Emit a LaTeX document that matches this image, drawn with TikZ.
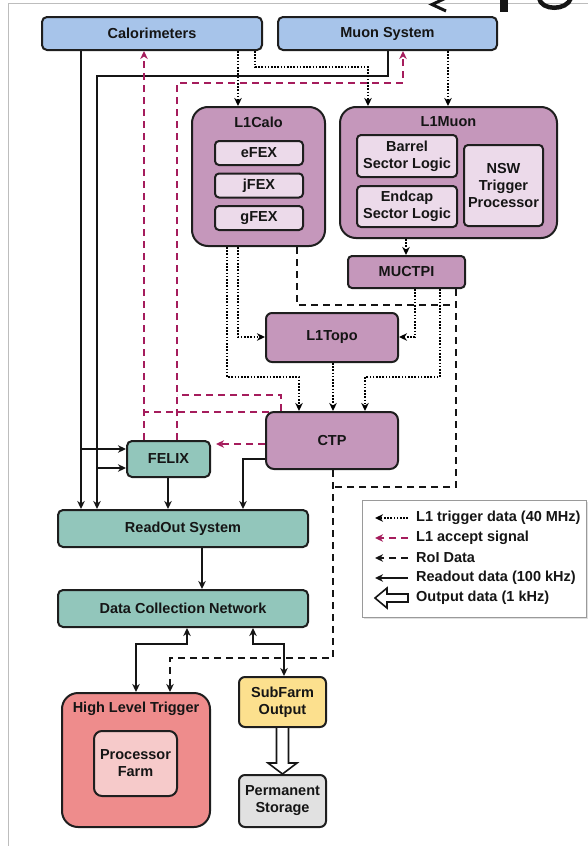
\documentclass[tikz,border=0pt]{standalone}
\usepackage{fontspec}
\setmainfont{Liberation Sans}
\usetikzlibrary{arrows.meta,calc,backgrounds}

\definecolor{edge}{HTML}{1E1E1E}
\definecolor{ink}{HTML}{151515}
\definecolor{skyfill}{HTML}{A7C4EA}
\definecolor{mauve}{HTML}{C597BB}
\definecolor{mauvelite}{HTML}{ECDAEA}
\definecolor{tealfill}{HTML}{92C6BB}
\definecolor{hltfill}{HTML}{EE8C8C}
\definecolor{hltlite}{HTML}{F6CACA}
\definecolor{sfofill}{HTML}{FCE08E}
\definecolor{storefill}{HTML}{E1E1E1}
\definecolor{acc}{HTML}{A51C5C}
\definecolor{frame}{HTML}{BDBDBD}
\definecolor{legedge}{HTML}{9A9A9A}

\begin{document}
\begin{tikzpicture}[x=1pt,y=-1pt,
  font=\bfseries\fontsize{14.5}{17}\selectfont,
  unit/.style={draw=edge,line width=2pt,align=center,inner sep=0pt,text=ink},
  bluebox/.style={unit,fill=skyfill,rounded corners=5pt},
  l1outer/.style={unit,fill=mauve,rounded corners=16pt},
  l1box/.style={unit,fill=mauve,rounded corners=6pt},
  l1inner/.style={unit,fill=mauvelite,rounded corners=4pt},
  tealbox/.style={unit,fill=tealfill,rounded corners=5pt},
  caption/.style={inner sep=0pt,text=ink},
  arrowhd/.style={-{Stealth[length=8pt,width=7.5pt,inset=2.5pt]}},
  trig/.style={line width=1.7pt,dash pattern=on 1.6pt off 1.6pt,arrowhd},
  accept/.style={draw=acc,line width=1.7pt,dash pattern=on 7pt off 5pt},
  roi/.style={draw=ink,line width=1.7pt,dash pattern=on 7pt off 5pt},
  readout/.style={draw=ink,line width=1.7pt},
  hollow/.style={draw=ink,line width=1.6pt,fill=white,line join=miter},
]
\useasboundingbox (0,0) rectangle (588,846);

% page frame
\draw[frame,line width=1pt] (588,3) -- (8,3) -- (8,846);

% lower ends of the large heading glyphs cut by the page edge
\begin{scope}
  \clip (400,0) rectangle (588,13);
  \draw[ink,line width=3pt,line join=miter] (446,-2) -- (432,4.5) -- (446,11);
  \fill[ink] (500,-1) rectangle (508,12);
  \draw[ink,line width=4.5pt] (539,-2) .. controls (541,11) and (567,11) .. (571,-2);
\end{scope}

% column and row guides used by the connectors
\coordinate (xCaloRO) at (81,0);
\coordinate (xMuonRO) at (97,0);
\coordinate (xAccCalo) at (144,0);
\coordinate (xAccMuonL) at (177,0);
\coordinate (xCaloTrg) at (238,0);
\coordinate (xCaloTrgB) at (255,0);
\coordinate (xMuonInA) at (368,0);
\coordinate (xMuonSol) at (388,0);
\coordinate (xAccMuon) at (403,0);
\coordinate (xMuonInB) at (448,0);
\coordinate (xToMuctpi) at (406,0);
\coordinate (xCaloCtp) at (227,0);
\coordinate (xCtpA) at (299,0);
\coordinate (xCtpB) at (333,0);
\coordinate (xCtpC) at (365,0);
\coordinate (xCaloRoI) at (297,0);
\coordinate (xMuTopo) at (415,0);
\coordinate (xMuCtp) at (440,0);
\coordinate (xMuRoI) at (456,0);
\coordinate (xCtpRO) at (243,0);
\coordinate (xFelixRO) at (168,0);
\coordinate (xRosDcn) at (202,0);
\coordinate (xDcnHltA) at (187,0);
\coordinate (xDcnHltB) at (136,0);
\coordinate (xDcnSfoA) at (253,0);
\coordinate (xDcnSfoB) at (284,0);
\coordinate (xRoIHlt) at (170,0);
\coordinate (xAccCorner) at (281,0);
\coordinate (yTrgRow) at (0,67);
\coordinate (yMuonSol) at (0,76);
\coordinate (yAccRow) at (0,83);
\coordinate (yRoIRow) at (0,305);
\coordinate (yTopoIn) at (0,337);
\coordinate (yCtpRow) at (0,377);
\coordinate (yAccUp) at (0,395);
\coordinate (yAccLow) at (0,412);
\coordinate (yAccFelix) at (0,444);
\coordinate (yFelixA) at (0,449);
\coordinate (yCtpRO) at (0,459);
\coordinate (yFelixB) at (0,468);
\coordinate (yRoIJoin) at (0,487);
\coordinate (yDcnOut) at (0,644);
\coordinate (yRoIHlt) at (0,658);

% detectors
\node[bluebox,minimum width=220,minimum height=33] (calo) at (152,33.5) {Calorimeters};
\node[bluebox,minimum width=219,minimum height=33] (muon) at (387.5,33.5) {Muon System};

% level-1 calorimeter trigger
\node[l1outer,minimum width=133,minimum height=139] (l1calo) at (258.5,176.5) {};
\node[caption] (l1calot) at (258.5,122) {L1Calo};
\node[l1inner,minimum width=88,minimum height=24] (efex) at (259,153) {eFEX};
\node[l1inner,minimum width=88,minimum height=24] (jfex) at (259,185.5) {jFEX};
\node[l1inner,minimum width=88,minimum height=24] (gfex) at (259,218) {gFEX};

% level-1 muon trigger
\node[l1outer,minimum width=217,minimum height=131] (l1muon) at (448.5,172.5) {};
\node[caption] (l1muont) at (448.5,122) {L1Muon};
\node[l1inner,minimum width=100,minimum height=42] (barrel) at (407,156) {Barrel\\Sector Logic};
\node[l1inner,minimum width=100,minimum height=41] (endcap) at (407,206.5) {Endcap\\Sector Logic};
\node[l1inner,minimum width=79,minimum height=81] (nsw) at (503.5,185.5) {NSW\\Trigger\\Processor};

\node[l1box,minimum width=117,minimum height=32,rounded corners=4pt] (muctpi) at (406.5,272) {MUCTPI};
\node[l1box,minimum width=132,minimum height=49] (l1topo) at (332,337.5) {L1Topo};
\node[l1box,minimum width=132,minimum height=57,rounded corners=8pt] (ctp) at (332,440.5) {CTP};

% readout path
\node[tealbox,minimum width=83,minimum height=36] (felix) at (168.5,459) {FELIX};
\node[tealbox,minimum width=250,minimum height=37] (ros) at (183,528.5) {ReadOut System};
\node[tealbox,minimum width=250,minimum height=37] (dcn) at (183,608.5) {Data Collection Network};

% high level trigger and output
\node[unit,fill=hltfill,rounded corners=16pt,minimum width=148,minimum height=134] (hlt) at (136,760) {};
\node[caption] (hltt) at (136,709) {High Level Trigger};
\node[unit,fill=hltlite,rounded corners=8pt,minimum width=83,minimum height=65] (pfarm) at (135.5,763.5) {Processor\\Farm};
\node[unit,fill=sfofill,rounded corners=6pt,minimum width=87,minimum height=50] (sfo) at (282.5,702) {SubFarm\\Output};
\node[unit,fill=storefill,rounded corners=6pt,minimum width=87,minimum height=52] (pstore) at (282.5,801) {Permanent\\Storage};

\begin{scope}[on background layer]
  % readout data
  \draw[readout,arrowhd] (calo.south -| xCaloRO) -- (ros.north -| xCaloRO);
  \draw[readout,arrowhd] (xCaloRO |- yFelixA) -- (felix.west |- yFelixA);
  \draw[readout,arrowhd] (muon.south -| xMuonSol) -- (xMuonSol |- yMuonSol) -- (xMuonRO |- yMuonSol) -- (ros.north -| xMuonRO);
  \draw[readout,arrowhd] (xMuonRO |- yFelixB) -- (felix.west |- yFelixB);
  \draw[readout,arrowhd] (felix.south -| xFelixRO) -- (ros.north -| xFelixRO);
  \draw[readout,arrowhd] (ctp.west |- yCtpRO) -- (xCtpRO |- yCtpRO) -- (ros.north -| xCtpRO);
  \draw[readout,arrowhd] (ros.south -| xRosDcn) -- (dcn.north -| xRosDcn);
  \draw[readout,{Stealth[length=8pt,width=7.5pt,inset=2.5pt]}-{Stealth[length=8pt,width=7.5pt,inset=2.5pt]}]
    (dcn.south -| xDcnHltA) -- (xDcnHltA |- yDcnOut) -- (xDcnHltB |- yDcnOut) -- (hlt.north -| xDcnHltB);
  \draw[readout,{Stealth[length=8pt,width=7.5pt,inset=2.5pt]}-{Stealth[length=8pt,width=7.5pt,inset=2.5pt]}]
    (dcn.south -| xDcnSfoA) -- (xDcnSfoA |- yDcnOut) -- (xDcnSfoB |- yDcnOut) -- (sfo.north -| xDcnSfoB);

  % level-1 trigger data
  \draw[trig] (calo.south -| xCaloTrg) -- (l1calo.north -| xCaloTrg);
  \draw[trig] (calo.south -| xCaloTrgB) -- (xCaloTrgB |- yTrgRow) -- (xMuonInA |- yTrgRow) -- (l1muon.north -| xMuonInA);
  \draw[trig] (muon.south -| xMuonInB) -- (l1muon.north -| xMuonInB);
  \draw[trig] (l1muon.south -| xToMuctpi) -- (muctpi.north -| xToMuctpi);
  \draw[trig] (l1calo.south -| xCaloCtp) -- (xCaloCtp |- yCtpRow) -- (xCtpA |- yCtpRow) -- (ctp.north -| xCtpA);
  \draw[trig] (l1calo.south -| xCaloTrg) -- (xCaloTrg |- yTopoIn) -- (l1topo.west |- yTopoIn);
  \draw[trig] (muctpi.south -| xMuTopo) -- (xMuTopo |- yTopoIn) -- (l1topo.east |- yTopoIn);
  \draw[trig] (muctpi.south -| xMuCtp) -- (xMuCtp |- yCtpRow) -- (xCtpC |- yCtpRow) -- (ctp.north -| xCtpC);
  \draw[trig] (l1topo.south -| xCtpB) -- (ctp.north -| xCtpB);

  % region-of-interest data
  \draw[roi] (l1calo.south -| xCaloRoI) -- (xCaloRoI |- yRoIRow) -- (xMuRoI |- yRoIRow);
  \draw[roi] (muctpi.south -| xMuRoI) -- (xMuRoI |- yRoIJoin) -- (xCtpB |- yRoIJoin);
  \draw[roi,arrowhd] (ctp.south -| xCtpB) -- (xCtpB |- yRoIHlt) -- (xRoIHlt |- yRoIHlt) -- (hlt.north -| xRoIHlt);

  % level-1 accept
  \draw[accept,arrowhd,shorten >=5pt] (ctp.west |- yAccFelix) -- (felix.east |- yAccFelix);
  \draw[accept,arrowhd] (felix.north -| xAccCalo) -- (calo.south -| xAccCalo);
  \draw[accept,arrowhd] (felix.north -| xAccMuonL) -- (xAccMuonL |- yAccRow) -- (xAccMuon |- yAccRow) -- (muon.south -| xAccMuon);
  \draw[accept] (ctp.north -| xAccCorner) -- (xAccCorner |- yAccUp) -- (xAccMuonL |- yAccUp);
  \draw[accept] (xAccCorner |- yAccLow) -- (xAccCalo |- yAccLow);
\end{scope}

% event data to permanent storage
\draw[hollow] ($(sfo.south)+(-6,0)$) -- ($(sfo.south)+(-6,35)$) -- ($(sfo.south)+(-14.5,35)$)
  -- (pstore.north) -- ($(sfo.south)+(14.5,35)$) -- ($(sfo.south)+(6,35)$) -- ($(sfo.south)+(6,0)$);

% legend
\fill[black!12] (364,502) rectangle (588,619);
\node[draw=legedge,line width=1pt,fill=white,minimum width=224,minimum height=117,anchor=north west,inner sep=0pt] (legend) at (362,500) {};
\node[caption,anchor=west] (lg1) at (416,518) {L1 trigger data (40 MHz)};
\node[caption,anchor=west] (lg2) at (416,538) {L1 accept signal};
\node[caption,anchor=west] (lg3) at (416,558) {RoI Data};
\node[caption,anchor=west] (lg4) at (416,578) {Readout data (100 kHz)};
\node[caption,anchor=west] (lg5) at (416,598) {Output data (1 kHz)};
\draw[trig] ($(lg1.west)+(-8,0)$) -- ($(lg1.west)+(-41,0)$);
\draw[accept,arrowhd] ($(lg2.west)+(-8,0)$) -- ($(lg2.west)+(-41,0)$);
\draw[roi,arrowhd] ($(lg3.west)+(-8,0)$) -- ($(lg3.west)+(-41,0)$);
\draw[readout,arrowhd] ($(lg4.west)+(-8,0)$) -- ($(lg4.west)+(-41,0)$);
\draw[hollow] ($(lg5.west)+(-8,-4)$) -- ($(lg5.west)+(-29,-4)$) -- ($(lg5.west)+(-29,-10)$)
  -- ($(lg5.west)+(-41,0)$) -- ($(lg5.west)+(-29,10)$) -- ($(lg5.west)+(-29,4)$) -- ($(lg5.west)+(-8,4)$) -- cycle;
\end{tikzpicture}
\end{document}
